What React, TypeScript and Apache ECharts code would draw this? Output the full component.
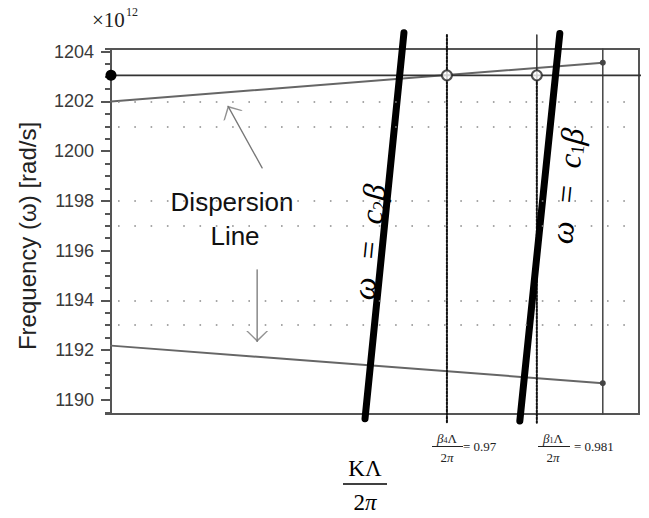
import React, { useEffect, useRef } from "react";
import * as echarts from "echarts";

// ---- axis ranges ----
const X_MIN = 0.9289;
const X_MAX = 0.9935;
const Y_MIN = 1189.43;
const Y_MAX = 1204.11;

// ---- data ----
const upperDispersion: number[][] = [[0.9289, 1202.0], [0.98907, 1203.56]];
const lowerDispersion: number[][] = [[0.9289, 1192.18], [0.98907, 1190.67]];
const operatingLine: number[][] = [[0.9289, 1203.05], [0.9942, 1203.05]];
const lineC2: number[][] = [[0.95998, 1189.24], [0.96474, 1204.76]];
const lineC1: number[][] = [[0.97892, 1189.15], [0.98381, 1204.73]];
const vBeta4: number[][] = [[0.97, 1204.67], [0.97, 1189.08]];
const vBeta1Solid: number[][] = [[0.981, 1204.67], [0.981, 1203.05]];
const vBeta1Dotted: number[][] = [[0.981, 1203.05], [0.981, 1189.08]];
const vEnd: number[][] = [[0.98907, 1204.11], [0.98907, 1189.43]];
const crossingPoints: number[][] = [[0.97, 1203.05], [0.981, 1203.05]];
const dottedRows: number[] = [1202, 1201, 1198, 1197, 1194, 1193];
const upperArrow: number[][] = [[0.94739, 1199.33], [0.94323, 1201.8]];
const lowerArrow: number[][] = [[0.94678, 1195.23], [0.94678, 1192.35]];
// arrow-head anchor points (centre of the chevron) and their directions (deg)
const arrowHeads: number[][] = [[0.94351, 1201.63], [0.94678, 1192.55]];
const arrowHeadAngles: number[] = [28.7, 180];

const CHEVRON = "path://M0,9 L9,0 L18,9 L16.5,9 L9,1.7 L1.5,9 Z";

const SANS = '"Liberation Sans", Arial, sans-serif';
const SERIF = '"Liberation Serif", "Times New Roman", serif';

function plainLine(data: any[], color: string, width: number, type: any = "solid", extra: any = {}) {
  return {
    type: "line",
    data,
    symbol: "none",
    silent: true,
    clip: false,
    animation: false,
    lineStyle: { color, width, type, cap: "round" },
    itemStyle: { color },
    emphasis: { disabled: true },
    ...extra,
  };
}

export default function App() {
  const ref = useRef<HTMLDivElement>(null);

  useEffect(() => {
    if (!ref.current) return;
    const chart = echarts.init(ref.current, null as any, { renderer: "svg" });

    const fracNum = (sub: string) => ({
      text: `{i|β}{s|${sub}}{n|Λ}`,
      textAlign: "center",
      textVerticalAlign: "middle",
      rich: {
        i: { fontSize: 13, fontFamily: SERIF, fontStyle: "italic", fill: "#222", verticalAlign: "bottom" },
        s: { fontSize: 8, fontFamily: SERIF, fill: "#222", verticalAlign: "bottom" },
        n: { fontSize: 13, fontFamily: SERIF, fill: "#222", verticalAlign: "bottom" },
      },
    });
    const twoPi = (size: number, color: string) => ({
      text: "{n|2}{p|π}",
      textAlign: "center",
      textVerticalAlign: "middle",
      rich: {
        n: { fontSize: size, fontFamily: SERIF, fill: color },
        p: { fontSize: size, fontFamily: SERIF, fontStyle: "italic", fill: color },
      },
    });
    const omegaText = (sub: string) => ({
      text: `{a|ω  =  c}{b|${sub}}{a|β}`,
      fill: "#000",
      textAlign: "center",
      textVerticalAlign: "middle",
      rich: {
        a: { fontSize: 32, fontFamily: SERIF, fontStyle: "italic", fill: "#000", verticalAlign: "bottom" },
        b: { fontSize: 19, fontFamily: SERIF, fill: "#000", verticalAlign: "bottom" },
      },
    });

    const option: any = {
      animation: false,
      backgroundColor: "#fff",
      grid: {
        left: 111,
        top: 49,
        width: 528,
        height: 365,
        show: true,
        borderColor: "#555",
        borderWidth: 2,
        containLabel: false,
        outerBoundsMode: "none",
      },
      xAxis: {
        type: "value",
        min: X_MIN,
        max: X_MAX,
        show: false,
      },
      yAxis: [
        {
          type: "value",
          min: Y_MIN,
          max: Y_MAX,
          splitNumber: 7,
          position: "left",
          axisLine: { show: true, lineStyle: { color: "#555", width: 2 } },
          axisTick: { show: true, length: 10, lineStyle: { color: "#555", width: 2 } },
          axisLabel: {
            show: true,
            margin: 17,
            showMinLabel: false,
            showMaxLabel: false,
            color: "#3a3a3a",
            fontSize: 18,
            fontFamily: SANS,
            formatter: (v: number) => (Math.abs(v - Math.round(v)) < 1e-6 ? String(Math.round(v)) : ""),
          },
          splitLine: { show: false },
        },
        {
          type: "value",
          min: Y_MIN,
          max: Y_MAX,
          splitNumber: 29,
          position: "left",
          offset: 0,
          axisLine: { show: false },
          axisTick: { show: true, length: 6, lineStyle: { color: "#555", width: 2 } },
          axisLabel: { show: false },
          splitLine: { show: false },
        },
      ],
      series: [
        // dotted horizontal guide rows
        {
          type: "line",
          data: [],
          symbol: "none",
          silent: true,
          markLine: {
            silent: true,
            symbol: ["none", "none"],
            label: { show: false },
            emphasis: { disabled: true },
            lineStyle: { color: "#8a8a8a", width: 1.6, type: [1.6, 14.7], dashOffset: -7 },
            data: dottedRows.map((v) => ({ yAxis: v })),
          },
        },
        // annotation arrow shafts
        plainLine(upperArrow, "#777", 1.3),
        plainLine(lowerArrow, "#777", 1.3),
        // annotation arrow heads
        {
          type: "scatter",
          data: arrowHeads.map((p, i) => ({ value: p, symbolRotate: arrowHeadAngles[i] })),
          symbol: CHEVRON,
          symbolSize: [22, 11],
          silent: true,
          itemStyle: { color: "#777" },
          emphasis: { disabled: true },
        },
        plainLine(
          [{ value: upperDispersion[0], symbol: "none" }, { value: upperDispersion[1], symbol: "circle", symbolSize: 6 }],
          "#666",
          2,
          "solid",
          { showSymbol: true, itemStyle: { color: "#444" } }
        ),
        plainLine(
          [{ value: lowerDispersion[0], symbol: "none" }, { value: lowerDispersion[1], symbol: "circle", symbolSize: 6 }],
          "#666",
          2,
          "solid",
          { showSymbol: true, itemStyle: { color: "#444" } }
        ),
        plainLine(vEnd, "#444", 1.5),
        plainLine(
          [{ value: operatingLine[0], symbol: "circle", symbolSize: 11 }, { value: operatingLine[1], symbol: "none" }],
          "#333",
          1.8,
          "solid",
          { showSymbol: true, itemStyle: { color: "#000" } }
        ),
        plainLine(vBeta4, "#111", 2, [2, 1.6]),
        plainLine(vBeta1Solid, "#333", 1.5),
        plainLine(vBeta1Dotted, "#111", 2, [2, 1.6]),
        plainLine(lineC2, "#000", 7),
        plainLine(lineC1, "#000", 7),
        {
          type: "scatter",
          data: crossingPoints,
          symbol: "circle",
          symbolSize: 10,
          silent: true,
          z: 5,
          itemStyle: { color: "#fff", borderColor: "#222", borderWidth: 2 },
        },
      ],
      graphic: [
        {
          type: "text",
          x: 27,
          y: 236,
          rotation: Math.PI / 2,
          style: {
            text: "Frequency (ω) [rad/s]",
            fill: "#222",
            font: `24px ${SANS}`,
            textAlign: "center",
            textVerticalAlign: "middle",
          },
        },
        {
          type: "text",
          x: 92,
          y: 20,
          style: { text: "×10", fill: "#222", font: `21px ${SERIF}`, textAlign: "left", textVerticalAlign: "middle" },
        },
        {
          type: "text",
          x: 126,
          y: 12,
          style: { text: "12", fill: "#222", font: `12px ${SERIF}`, textAlign: "left", textVerticalAlign: "middle" },
        },
        {
          type: "text",
          x: 232,
          y: 202,
          style: { text: "Dispersion", fill: "#111", font: `26px ${SANS}`, textAlign: "center", textVerticalAlign: "middle" },
        },
        {
          type: "text",
          x: 235,
          y: 236,
          style: { text: "Line", fill: "#111", font: `26px ${SANS}`, textAlign: "center", textVerticalAlign: "middle" },
        },
        {
          type: "text",
          x: 369,
          y: 242,
          rotation: (84.2 * Math.PI) / 180,
          style: omegaText("2"),
        },
        {
          type: "text",
          x: 567,
          y: 186,
          rotation: (84.2 * Math.PI) / 180,
          style: omegaText("1"),
        },
        // K Lambda / 2 pi
        {
          type: "text",
          x: 365,
          y: 468,
          style: { text: "KΛ", fill: "#000", font: `23px ${SERIF}`, textAlign: "center", textVerticalAlign: "middle" },
        },
        {
          type: "line",
          shape: { x1: 343, y1: 484, x2: 387, y2: 484 },
          style: { stroke: "#000", lineWidth: 1.5 },
        },
        { type: "text", x: 365, y: 502, style: twoPi(23, "#000") },
        // beta4 Lambda / 2pi = 0.97
        { type: "text", x: 447, y: 438, style: fracNum("4") },
        {
          type: "line",
          shape: { x1: 432, y1: 446.5, x2: 463, y2: 446.5 },
          style: { stroke: "#222", lineWidth: 1 },
        },
        { type: "text", x: 447, y: 457, style: twoPi(13, "#222") },
        {
          type: "text",
          x: 463,
          y: 446,
          style: { text: "= 0.97", fill: "#222", font: `13px ${SERIF}`, textAlign: "left", textVerticalAlign: "middle" },
        },
        // beta1 Lambda / 2pi = 0.981
        { type: "text", x: 553, y: 438, style: fracNum("1") },
        {
          type: "line",
          shape: { x1: 538, y1: 446.5, x2: 570, y2: 446.5 },
          style: { stroke: "#222", lineWidth: 1 },
        },
        { type: "text", x: 553, y: 457, style: twoPi(13, "#222") },
        {
          type: "text",
          x: 574,
          y: 446,
          style: { text: "= 0.981", fill: "#222", font: `13px ${SERIF}`, textAlign: "left", textVerticalAlign: "middle" },
        },
      ],
    };

    chart.setOption(option);
    return () => {
      chart.dispose();
    };
  }, []);

  return (
    <div
      ref={ref}
      style={{ position: "absolute", left: 0, top: 0, width: 649, height: 518 }}
    />
  );
}
